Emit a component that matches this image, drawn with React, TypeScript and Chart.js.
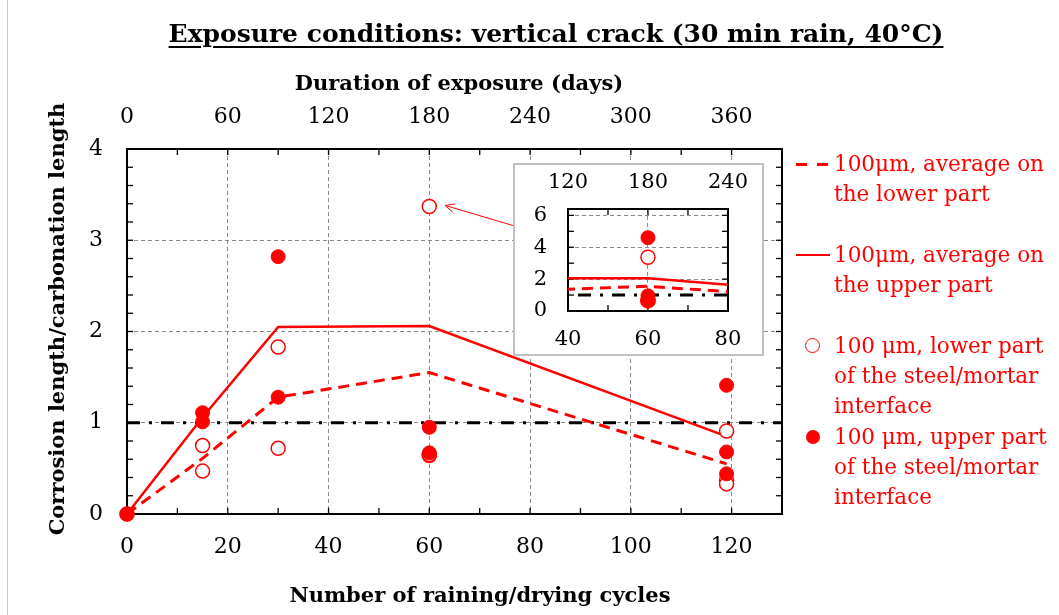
import React, { useEffect, useRef } from 'react';
import { Chart, registerables } from 'chart.js';

Chart.register(...registerables);

const FONT = "'DejaVu Serif', serif";
const RED = '#ff0000';

// ---- data ----
const titleText = 'Exposure conditions: vertical crack (30 min rain, 40°C)';
const xTitle = 'Number of raining/drying cycles';
const x2Title = 'Duration of exposure (days)';
const yTitle = 'Corrosion length/carbonation length';

const lowerPtCycles = [0, 15, 15, 30, 30, 60, 60, 60, 119, 119, 119];
const lowerPtValues = [0, 0.75, 0.47, 1.83, 0.72, 3.37, 0.64, 0.65, 0.91, 0.37, 0.33];
const upperPtCycles = [0, 15, 15, 30, 30, 60, 60, 60, 119, 119, 119];
const upperPtValues = [0, 1.11, 1.01, 2.82, 1.28, 4.6, 0.95, 0.67, 1.41, 0.68, 0.44];
const avgCycles = [0, 15, 30, 60, 119];
const lowerAvg = [0, 0.61, 1.28, 1.55, 0.55];
const upperAvg = [0, 1.06, 2.05, 2.06, 0.85];
const refCycles = [0, 130];
const refValues = [1, 1];

const mainCycleTicks = [0, 20, 40, 60, 80, 100, 120];
const mainDayTicks = [0, 60, 120, 180, 240, 300, 360];
const mainYTicks = [0, 1, 2, 3, 4];
const insetCycleTicks = [40, 60, 80];
const insetDayTicks = [120, 180, 240];
const insetYTicks = [0, 2, 4, 6];

const legendLabels = [
  ['100μm, average on', 'the lower part'],
  ['100μm, average on', 'the upper part'],
  ['100 μm, lower part', 'of the steel/mortar', 'interface'],
  ['100 μm, upper part', 'of the steel/mortar', 'interface'],
];

const pts = (xs: number[], ys: number[]) => xs.map((x, i) => ({ x, y: ys[i] }));

const frameTicks = {
  id: 'frameTicks',
  beforeDatasetsDraw(chart: any, _a: any, opts: any) {
    const { ctx, chartArea: a, scales } = chart;
    const len = opts.len || 6;
    ctx.save();
    ctx.strokeStyle = '#000';
    ctx.lineWidth = 1.3;
    const seg = (x1: number, y1: number, x2: number, y2: number) => {
      ctx.beginPath();
      ctx.moveTo(x1, y1);
      ctx.lineTo(x2, y2);
      ctx.stroke();
    };
    const each = (s: any, step: number, fn: (p: number) => void) => {
      const n = Math.round((s.max - s.min) / step);
      for (let i = 0; i <= n; i++) fn(s.getPixelForValue(s.min + i * step));
    };
    each(scales.x, opts.xStep, (p) => seg(p, a.bottom, p, a.bottom - len));
    each(scales.x2, opts.x2Step, (p) => seg(p, a.top, p, a.top + len));
    each(scales.y, opts.yStep, (p) => {
      seg(a.left, p, a.left + len, p);
      seg(a.right, p, a.right - len, p);
    });
    ctx.lineWidth = 2;
    ctx.strokeRect(a.left, a.top, a.right - a.left, a.bottom - a.top);
    ctx.restore();
  },
};

const arrowPlugin = {
  id: 'arrowPlugin',
  afterDraw(chart: any) {
    const { ctx, scales } = chart;
    const ex = scales.x.getPixelForValue(lowerPtCycles[5]) + 16;
    const ey = scales.y.getPixelForValue(lowerPtValues[5]) - 1;
    const sx = 518;
    const sy = 227;
    const ang = Math.atan2(sy - ey, sx - ex);
    ctx.save();
    ctx.strokeStyle = RED;
    ctx.lineWidth = 1;
    ctx.beginPath();
    ctx.moveTo(sx, sy);
    ctx.lineTo(ex, ey);
    ctx.stroke();
    const h = 10;
    ctx.beginPath();
    ctx.moveTo(ex + h * Math.cos(ang + 0.45), ey + h * Math.sin(ang + 0.45));
    ctx.lineTo(ex, ey);
    ctx.lineTo(ex + h * Math.cos(ang - 0.45), ey + h * Math.sin(ang - 0.45));
    ctx.stroke();
    ctx.restore();
  },
};

const gridColor = (lo: number, hi: number) => (c: any) =>
  c.tick && (Math.abs(c.tick.value - lo) < 1e-9 || Math.abs(c.tick.value - hi) < 1e-9)
    ? 'rgba(0,0,0,0)'
    : '#8a8a8a';

const setTicks = (arr: number[]) => (s: any) => {
  s.ticks = arr.map((v) => ({ value: v }));
};

const ptClip = { left: 12, bottom: 12, top: 0, right: 0 };

function makeDatasets(ptRadius: number) {
  return [
    {
      label: 'upper points',
      data: pts(upperPtCycles, upperPtValues),
      showLine: false,
      pointRadius: ptRadius,
      pointBackgroundColor: RED,
      pointBorderColor: RED,
      pointBorderWidth: 1,
      clip: ptClip,
      order: 0,
    },
    {
      label: 'lower points',
      data: pts(lowerPtCycles, lowerPtValues),
      showLine: false,
      pointRadius: ptRadius,
      pointBackgroundColor: '#ffffff',
      pointBorderColor: RED,
      pointBorderWidth: 1.5,
      clip: ptClip,
      order: 1,
    },
    {
      label: 'upper avg',
      data: pts(avgCycles, upperAvg),
      showLine: true,
      borderColor: RED,
      borderWidth: 2.5,
      pointRadius: 0,
      order: 2,
    },
    {
      label: 'lower avg',
      data: pts(avgCycles, lowerAvg),
      showLine: true,
      borderColor: RED,
      borderWidth: 3,
      borderDash: [11, 7],
      pointRadius: 0,
      order: 3,
    },
    {
      label: 'reference',
      data: pts(refCycles, refValues),
      showLine: true,
      borderColor: '#000',
      borderWidth: 3,
      borderDash: [13, 9, 3, 9],
      pointRadius: 0,
      order: 4,
    },
  ];
}

export default function App() {
  const mainRef = useRef<HTMLCanvasElement>(null);
  const insetRef = useRef<HTMLCanvasElement>(null);

  useEffect(() => {
    const tickFont = { family: FONT, size: 22 };
    const insetTickFont = { family: FONT, size: 21 };
    const main = new Chart(mainRef.current!, {
      type: 'scatter',
      data: { datasets: makeDatasets(7) as any },
      plugins: [frameTicks, arrowPlugin],
      options: {
        responsive: false,
        animation: false,
        events: [],
        layout: { padding: { left: 20, right: 277, top: 40, bottom: 0 } },
        plugins: {
          legend: { display: false },
          tooltip: { enabled: false },
          frameTicks: { xStep: 10, x2Step: 30, yStep: 0.2, len: 6 },
        } as any,
        scales: {
          x: {
            type: 'linear',
            position: 'bottom',
            min: 0,
            max: 130,
            afterBuildTicks: setTicks(mainCycleTicks),
            afterFit: (s: any) => { s.height = 101; },
            ticks: { font: tickFont, color: '#000', padding: 20, maxRotation: 0, autoSkip: false },
            grid: { color: gridColor(0, 130), lineWidth: 1, drawTicks: false },
            border: { display: false, dash: [4, 3] },
            title: { display: false },
          },
          x2: {
            type: 'linear',
            position: 'top',
            min: 0,
            max: 390,
            afterBuildTicks: setTicks(mainDayTicks),
            afterFit: (s: any) => { s.height = 109; },
            ticks: { font: tickFont, color: '#000', padding: 19, maxRotation: 0, autoSkip: false },
            grid: { display: false, drawTicks: false },
            border: { display: false },
            title: { display: false },
          },
          y: {
            type: 'linear',
            position: 'left',
            min: 0,
            max: 4,
            afterBuildTicks: setTicks(mainYTicks),
            afterFit: (s: any) => { s.width = 107; },
            ticks: { font: tickFont, color: '#000', padding: 24 },
            grid: { color: gridColor(0, 4), lineWidth: 1, drawTicks: false },
            border: { display: false, dash: [4, 3] },
            title: { display: false },
          },
        } as any,
      },
    });

    const inset = new Chart(insetRef.current!, {
      type: 'scatter',
      data: { datasets: makeDatasets(7) as any },
      plugins: [frameTicks],
      options: {
        responsive: false,
        animation: false,
        events: [],
        layout: { padding: { left: 0, right: 26, top: 0, bottom: 0 } },
        plugins: {
          legend: { display: false },
          tooltip: { enabled: false },
          frameTicks: { xStep: 10, x2Step: 30, yStep: 1, len: 6 },
        } as any,
        scales: {
          x: {
            type: 'linear',
            position: 'bottom',
            min: 40,
            max: 80,
            afterBuildTicks: setTicks(insetCycleTicks),
            afterFit: (s: any) => { s.height = 43; },
            ticks: { font: insetTickFont, color: '#000', padding: 16, maxRotation: 0, autoSkip: false },
            grid: { color: gridColor(40, 80), lineWidth: 1, drawTicks: false },
            border: { display: false, dash: [4, 3] },
          },
          x2: {
            type: 'linear',
            position: 'top',
            min: 120,
            max: 240,
            afterBuildTicks: setTicks(insetDayTicks),
            afterFit: (s: any) => { s.height = 44; },
            ticks: { font: insetTickFont, color: '#000', padding: 14, maxRotation: 0, autoSkip: false },
            grid: { display: false, drawTicks: false },
            border: { display: false },
          },
          y: {
            type: 'linear',
            position: 'left',
            min: 0,
            max: 6.4,
            afterBuildTicks: setTicks(insetYTicks),
            afterFit: (s: any) => { s.width = 53; },
            ticks: { font: insetTickFont, color: '#000', padding: 21 },
            grid: { color: gridColor(0, 6.4), lineWidth: 1, drawTicks: false },
            border: { display: false, dash: [4, 3] },
          },
        } as any,
      },
    });

    return () => {
      main.destroy();
      inset.destroy();
    };
  }, []);

  const legendTops = [164, 255, 346, 437];
  const textStyle: React.CSSProperties = {
    position: 'absolute',
    left: 834,
    color: RED,
    fontFamily: FONT,
    fontSize: 21.5,
    lineHeight: '30px',
    whiteSpace: 'nowrap',
  };
  const axisTitle = (cx: number, cy: number, rotate: boolean): React.CSSProperties => ({
    position: 'absolute',
    left: cx - 300,
    top: cy - 13,
    width: 600,
    height: 26,
    lineHeight: '26px',
    textAlign: 'center',
    fontFamily: FONT,
    fontWeight: 'bold',
    fontSize: 21,
    color: '#000',
    whiteSpace: 'nowrap',
    transform: rotate ? 'rotate(-90deg)' : undefined,
  });

  return (
    <div style={{ position: 'absolute', left: 0, top: 0, width: 1059, height: 615, background: '#fff', overflow: 'hidden' }}>
      <div style={{ position: 'absolute', left: 7, top: 0, width: 1, height: 615, background: '#c8c8c8' }} />
      <canvas ref={mainRef} width={1059} height={615} style={{ position: 'absolute', left: 0, top: 0, width: 1059, height: 615 }} />
      <div
        style={{
          position: 'absolute',
          left: 0,
          top: 19,
          width: 1112,
          textAlign: 'center',
          fontFamily: FONT,
          fontWeight: 'bold',
          fontSize: 25,
          lineHeight: '30px',
          color: '#000',
          textDecoration: 'underline',
          textDecorationThickness: '2px',
          textUnderlineOffset: '4px',
          whiteSpace: 'nowrap',
        }}
      >
        {titleText}
      </div>
      <div style={axisTitle(459, 83, false)}>{x2Title}</div>
      <div style={axisTitle(480, 595, false)}>{xTitle}</div>
      <div style={axisTitle(56.5, 318.5, true)}>{yTitle}</div>
      <div style={{ position: 'absolute', left: 513, top: 163, width: 247, height: 189, border: '2px solid #c0c0c0', background: '#fff' }}>
        <canvas ref={insetRef} width={247} height={189} style={{ display: 'block', width: 247, height: 189 }} />
      </div>
      {/* legend symbols */}
      <div style={{ position: 'absolute', left: 796, top: legendTops[0] - 1.5, width: 11, height: 3, background: RED }} />
      <div style={{ position: 'absolute', left: 817, top: legendTops[0] - 1.5, width: 11, height: 3, background: RED }} />
      <div style={{ position: 'absolute', left: 796, top: legendTops[1] - 1.25, width: 34, height: 2.5, background: RED }} />
      <div style={{ position: 'absolute', left: 805, top: legendTops[2] - 8, width: 13, height: 13, border: '1.5px solid ' + RED, borderRadius: '50%', background: '#fff' }} />
      <div style={{ position: 'absolute', left: 806, top: legendTops[3] - 7, width: 14, height: 14, borderRadius: '50%', background: RED }} />
      {legendLabels.map((lines, i) => (
        <div key={i} style={{ ...textStyle, top: legendTops[i] - 15 }}>
          {lines.map((l, j) => (
            <div key={j}>{l}</div>
          ))}
        </div>
      ))}
    </div>
  );
}
